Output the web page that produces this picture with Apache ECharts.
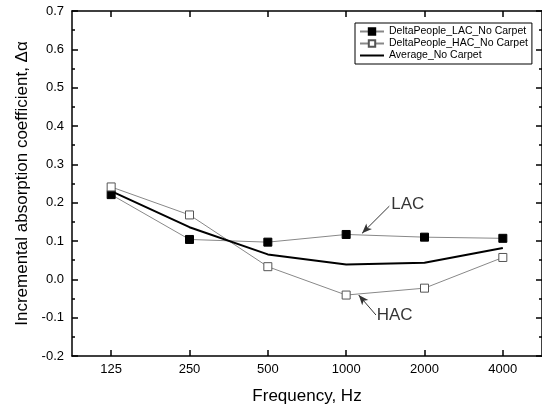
<!DOCTYPE html>
<html>
<head>
<meta charset="utf-8">
<script src="https://cdn.jsdelivr.net/npm/echarts@6/dist/echarts.min.js"></script>
<style>html,body{margin:0;padding:0;background:#fff;}#c{width:542px;height:410px;}</style>
</head>
<body>
<div id="c"></div>
<script>
const frequencies = ['125', '250', '500', '1000', '2000', '4000'];
const lacValues = [0.221, 0.104, 0.097, 0.117, 0.110, 0.107];
const hacValues = [0.241, 0.168, 0.033, -0.041, -0.023, 0.057];
const avgValues = [0.230, 0.136, 0.065, 0.039, 0.043, 0.082];
const seriesNames = ['DeltaPeople_LAC_No Carpet', 'DeltaPeople_HAC_No Carpet', 'Average_No Carpet'];
const yTicks = { min: -0.2, max: 0.7, interval: 0.1 };
// annotation text anchors [x (category index units), y, text]
const noteLabels = [[3.576, 0.195, 'LAC'], [3.39, -0.093, 'HAC']];
// annotation arrows [from, to]
const noteArrows = [[[3.551, 0.191], [3.203, 0.120]], [[3.38, -0.093], [3.16, -0.041]]];

const FONT = '"Liberation Sans", Arial, sans-serif';
const chart = echarts.init(document.getElementById('c'));
const yCommon = {
  type: 'value', min: yTicks.min, max: yTicks.max, interval: yTicks.interval,
  axisLine: { show: true, onZero: false, lineStyle: { color: '#000', width: 1.5 } },
  axisTick: { show: true, inside: true, length: 6, lineStyle: { color: '#000', width: 1.5 } },
  minorTick: { show: true, splitNumber: 2, length: 3, lineStyle: { color: '#000', width: 1.5 } },
  splitLine: { show: false }
};
const xCommon = {
  type: 'category', data: frequencies, boundaryGap: true,
  axisLine: { show: true, onZero: false, lineStyle: { color: '#000', width: 1.5 } },
  axisTick: { show: true, inside: true, alignWithLabel: true, length: 6, lineStyle: { color: '#000', width: 1.5 } },
  splitLine: { show: false }
};
chart.setOption({
  animation: false,
  grid: { left: 72, right: -1, top: 11, bottom: 53 },
  legend: {
    data: [
      { name: seriesNames[0] },
      { name: seriesNames[1] },
      { name: seriesNames[2], itemStyle: { opacity: 0 } }
    ],
    orient: 'vertical', left: 355, top: 23,
    borderColor: '#000', borderWidth: 1, padding: [3, 4, 3, 4],
    itemGap: 1, itemWidth: 24, itemHeight: 8,
    textStyle: { fontFamily: FONT, fontSize: 10.5, color: '#000', lineHeight: 10 }
  },
  xAxis: [
    Object.assign({}, xCommon, {
      position: 'bottom',
      name: 'Frequency, Hz', nameLocation: 'middle', nameGap: 32,
      nameTextStyle: { fontFamily: FONT, fontSize: 17, color: '#000' },
      axisLabel: { fontFamily: FONT, fontSize: 13, color: '#000', margin: 7 }
    }),
    Object.assign({}, xCommon, { position: 'top', axisLabel: { show: false } }),
    { type: 'value', min: -0.5, max: 5.5, show: false }
  ],
  yAxis: [
    Object.assign({}, yCommon, {
      position: 'left',
      name: 'Incremental absorption coefficient, \u0394\u03b1', nameLocation: 'middle', nameGap: 39,
      nameTextStyle: { fontFamily: FONT, fontSize: 17, color: '#000' },
      axisLabel: { fontFamily: FONT, fontSize: 13, color: '#000', margin: 8, formatter: v => v.toFixed(1) }
    }),
    Object.assign({}, yCommon, { position: 'right', axisLabel: { show: false } })
  ],
  series: [
    {
      name: seriesNames[0], type: 'line', data: lacValues, xAxisIndex: 0, yAxisIndex: 0,
      symbol: 'rect', symbolSize: 8, showSymbol: true,
      lineStyle: { color: '#888', width: 1 },
      itemStyle: { color: '#000', borderColor: '#000', borderWidth: 1 }
    },
    {
      name: seriesNames[1], type: 'line', data: hacValues, xAxisIndex: 0, yAxisIndex: 0,
      symbol: 'rect', symbolSize: 8, showSymbol: true,
      lineStyle: { color: '#888', width: 1 },
      itemStyle: { color: '#fff', borderColor: '#555', borderWidth: 1 }
    },
    {
      name: seriesNames[2], type: 'line', data: avgValues, xAxisIndex: 0, yAxisIndex: 0,
      symbol: 'none', showSymbol: false,
      lineStyle: { color: '#000', width: 2 },
      itemStyle: { color: '#000' }
    },
    {
      name: 'notes', type: 'scatter', xAxisIndex: 2, yAxisIndex: 0,
      data: noteLabels, symbolSize: 0, silent: true,
      label: { show: true, position: 'right', distance: 0, formatter: p => p.data[2],
        fontFamily: FONT, fontSize: 17, color: '#000' },
      markLine: {
        silent: true, animation: false,
        symbol: ['none', 'arrow'], symbolSize: [6, 10],
        label: { show: false },
        lineStyle: { color: '#333', width: 1, type: 'solid' },
        data: noteArrows.map(a => [{ coord: a[0] }, { coord: a[1] }])
      }
    }
  ]
});
</script>
</body>
</html>
